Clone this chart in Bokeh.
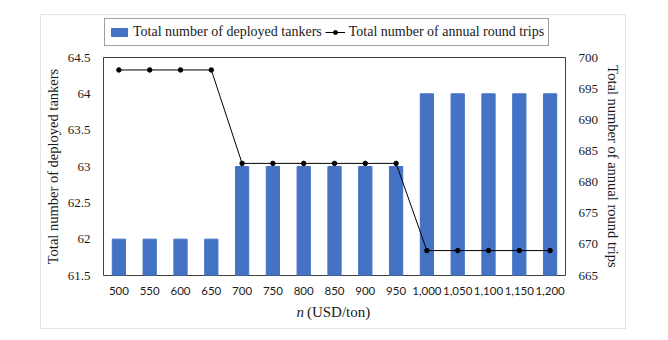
from bokeh.plotting import figure
from bokeh.layouts import column
from bokeh.models import (Range1d, LinearAxis, FixedTicker, Legend, LegendItem,
                          ColumnDataSource, Label)
from bokeh.embed import file_html
from bokeh.resources import INLINE

categories = ["500", "550", "600", "650", "700", "750", "800", "850", "900", "950",
              "1,000", "1,050", "1,100", "1,150", "1,200"]
tankers = [62, 62, 62, 62, 63, 63, 63, 63, 63, 63, 64, 64, 64, 64, 64]
round_trips = [698, 698, 698, 698, 683, 683, 683, 683, 683, 683, 669, 669, 669, 669, 669]
left_ticks = [61.5, 62, 62.5, 63, 63.5, 64, 64.5]
right_ticks = [665, 670, 675, 680, 685, 690, 695, 700]
bar_label = "Total number of deployed tankers"
line_label = "Total number of annual round trips"

serif = "Liberation Serif"
TXT = "#1a1a1a"
FULL_W = 584
BAR_COLOR = "#4472C4"

src = ColumnDataSource(dict(x=categories, t=tankers, r=round_trips))

# ---------- legend strip (its glyphs fall outside its own range; only the legend shows) ----------
top = figure(width=FULL_W, height=34, x_range=categories, y_range=Range1d(1000, 1001),
             x_axis_type=None, y_axis_type=None, output_backend="svg", toolbar_location=None,
             min_border=0, outline_line_color=None)
top.grid.visible = False
l_bar = top.vbar(x="x", top="t", bottom=61.5, width=0.43, source=src, color=BAR_COLOR)
l_line = top.line(x="x", y="r", source=src, line_color="black", line_width=1)
l_pt = top.scatter(x="x", y="r", source=src, size=4.5, color="black")
legend = Legend(items=[LegendItem(label=bar_label, renderers=[l_bar]),
                       LegendItem(label=line_label, renderers=[l_line, l_pt])],
                orientation="horizontal", location=(1, 3))
legend.label_text_font = serif
legend.label_text_font_size = "14px"
legend.label_text_color = TXT
legend.border_line_color = "#404040"
legend.border_line_width = 1
legend.glyph_width = 20
legend.glyph_height = 10
legend.spacing = 3
legend.padding = 4
legend.margin = 0
legend.label_standoff = 4
legend.label_height = 18
top.add_layout(legend, "center")

# ---------- main chart ----------
p = figure(x_range=categories, y_range=Range1d(61.5, 64.5),
           frame_width=462, frame_height=218,
           output_backend="svg", toolbar_location=None,
           min_border_left=60, min_border_right=58, min_border_top=8, min_border_bottom=22)
p.extra_y_ranges = {"right": Range1d(665, 700)}

p.vbar(x="x", top="t", bottom=61.5, width=0.43, source=src, color=BAR_COLOR)
p.line(x="x", y="r", source=src, y_range_name="right", line_color="black", line_width=1)
p.scatter(x="x", y="r", source=src, y_range_name="right", size=4.5, color="black")

p.yaxis.ticker = FixedTicker(ticks=left_ticks)
p.yaxis.major_label_overrides = {62: "62", 63: "63", 64: "64"}
p.yaxis.axis_label = bar_label

ax_r = LinearAxis(y_range_name="right", ticker=FixedTicker(ticks=right_ticks),
                  axis_label=line_label)
p.add_layout(ax_r, "right")

for ax in [p.yaxis[0], ax_r]:
    ax.major_label_text_font = serif
    ax.major_label_text_font_size = "13px"
    ax.major_label_text_color = TXT
    ax.axis_label_text_font = serif
    ax.axis_label_text_font_size = "14.5px"
    ax.axis_label_text_font_style = "normal"
    ax.axis_label_text_color = TXT
    ax.axis_line_color = None
    ax.major_tick_line_color = None
    ax.minor_tick_line_color = None
    ax.major_label_standoff = 7
    ax.axis_label_standoff = 4

p.xaxis.major_label_text_font = "Lato"
p.xaxis.major_label_text_font_size = "11.5px"
p.xaxis.major_label_text_color = TXT
p.xaxis.axis_line_color = None
p.xaxis.major_tick_line_color = None
p.xaxis.major_label_standoff = 5

p.xgrid.grid_line_color = None
p.ygrid.grid_line_color = None
p.outline_line_color = "#404040"
p.outline_line_width = 1

# ---------- x-axis title strip (frame aligned with the chart frame) ----------
bot = figure(width=FULL_W, height=31, x_range=Range1d(0, 462), y_range=Range1d(0, 31),
             x_axis_type=None, y_axis_type=None, output_backend="svg", toolbar_location=None,
             min_border=0, outline_line_color=None)
bot.grid.visible = False
bot.add_layout(Label(x=200, y=17, text="n", text_align="right", text_baseline="middle",
                     text_font=serif, text_font_size="15px", text_font_style="italic",
                     text_color=TXT))
bot.add_layout(Label(x=203, y=17, text="(USD/ton)", text_align="left", text_baseline="middle",
                     text_font=serif, text_font_size="15px", text_color=TXT))

layout = column(top, p, bot, spacing=0)
layout.margin = (14, 0, 0, 40)
layout.styles = {"border": "1px solid #e3e3e3"}

open("out.html", "w").write(file_html(layout, INLINE))
